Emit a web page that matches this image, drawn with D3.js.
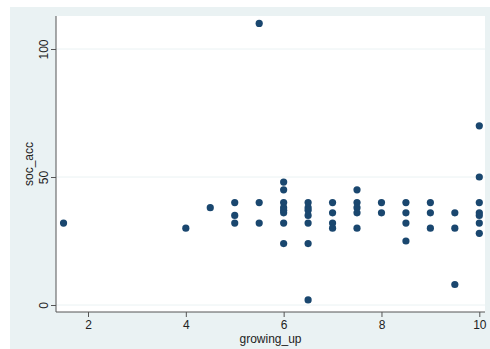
<!DOCTYPE html>
<html lang="en">
<head>
<meta charset="UTF-8">
<title>soc_acc vs growing_up</title>
<script src="https://d3js.org/d3.v7.min.js"></script>
<style>
  body { margin: 0; background: #fff; }
  text { font-family: "Liberation Sans", Arial, sans-serif; fill: #222; }
</style>
</head>
<body>
<svg></svg>
<script>
// values
const growingUp = [1.5, 4, 4.5, 5, 5, 5, 5.5, 5.5, 5.5,
  6, 6, 6, 6, 6, 6, 6, 6,
  6.5, 6.5, 6.5, 6.5, 6.5, 6.5, 6.5,
  7, 7, 7, 7,
  7.5, 7.5, 7.5, 7.5, 7.5,
  8, 8,
  8.5, 8.5, 8.5, 8.5,
  9, 9, 9,
  9.5, 9.5, 9.5,
  10, 10, 10, 10, 10, 10, 10];
const socAcc = [32, 30, 38, 40, 35, 32, 110, 40, 32,
  48, 45, 40, 38, 37, 36, 32, 24,
  40, 38, 37, 35, 32, 24, 2,
  40, 36, 32, 30,
  45, 40, 38, 36, 30,
  40, 36,
  40, 36, 32, 25,
  40, 36, 30,
  36, 30, 8,
  70, 50, 40, 36, 35, 32, 28];
const xTicks = [2, 4, 6, 8, 10];
const yTicks = [0, 50, 100];

const width = 490, height = 349;
const svg = d3.select('svg')
  .attr('width', width)
  .attr('height', height)
  .attr('viewBox', [0, 0, width, height]);

const plot = {left: 56, right: 485, top: 16, bottom: 312};

// graph region background
svg.append('rect')
  .attr('x', 10).attr('y', 7)
  .attr('width', width - 10).attr('height', height - 7)
  .attr('fill', '#eaf2f3');

svg.append('rect')
  .attr('x', plot.left).attr('y', plot.top)
  .attr('width', plot.right - plot.left).attr('height', plot.bottom - plot.top)
  .attr('fill', '#fff');

const x = d3.scaleLinear().domain([2, 10]).range([88, 479.3]);
const y = d3.scaleLinear().domain([0, 100]).range([305, 49]);

// grid lines
svg.append('g')
  .selectAll('line')
  .data(yTicks)
  .join('line')
  .attr('x1', plot.left).attr('x2', plot.right)
  .attr('y1', d => y(d)).attr('y2', d => y(d))
  .attr('stroke', '#eaf2f3')
  .attr('stroke-width', 1);

// points
svg.append('g')
  .selectAll('circle')
  .data(growingUp.map((g, i) => [g, socAcc[i]]))
  .join('circle')
  .attr('cx', d => x(d[0]))
  .attr('cy', d => y(d[1]))
  .attr('r', 3.6)
  .attr('fill', '#1a476f');

// x axis
const xAxis = svg.append('g')
  .attr('transform', `translate(0,${plot.bottom})`)
  .call(d3.axisBottom(x).tickValues(xTicks).tickSize(5).tickPadding(3));
xAxis.select('.domain').remove();
xAxis.append('line')
  .attr('x1', plot.left).attr('x2', plot.right)
  .attr('stroke', '#555');
xAxis.selectAll('.tick line').attr('stroke', '#555');
xAxis.selectAll('.tick text').attr('font-size', 12).attr('fill', '#222');

// y axis
const yAxis = svg.append('g')
  .attr('transform', `translate(${plot.left},0)`)
  .call(d3.axisLeft(y).tickValues(yTicks).tickSize(5));
yAxis.select('.domain').remove();
yAxis.append('line')
  .attr('y1', plot.top).attr('y2', plot.bottom)
  .attr('stroke', '#555');
yAxis.selectAll('.tick line').attr('stroke', '#555');
yAxis.selectAll('.tick text')
  .attr('font-size', 12)
  .attr('fill', '#222')
  .attr('x', null).attr('dy', null)
  .attr('text-anchor', 'middle')
  .attr('transform', 'translate(-8,0) rotate(-90)');

// axis titles
svg.append('text')
  .attr('x', (plot.left + plot.right) / 2)
  .attr('y', 343)
  .attr('text-anchor', 'middle')
  .attr('font-size', 12)
  .text('growing_up');

svg.append('text')
  .attr('transform', `translate(33,${(plot.top + plot.bottom) / 2}) rotate(-90)`)
  .attr('text-anchor', 'middle')
  .attr('font-size', 12)
  .text('soc_acc');
</script>
</body>
</html>
